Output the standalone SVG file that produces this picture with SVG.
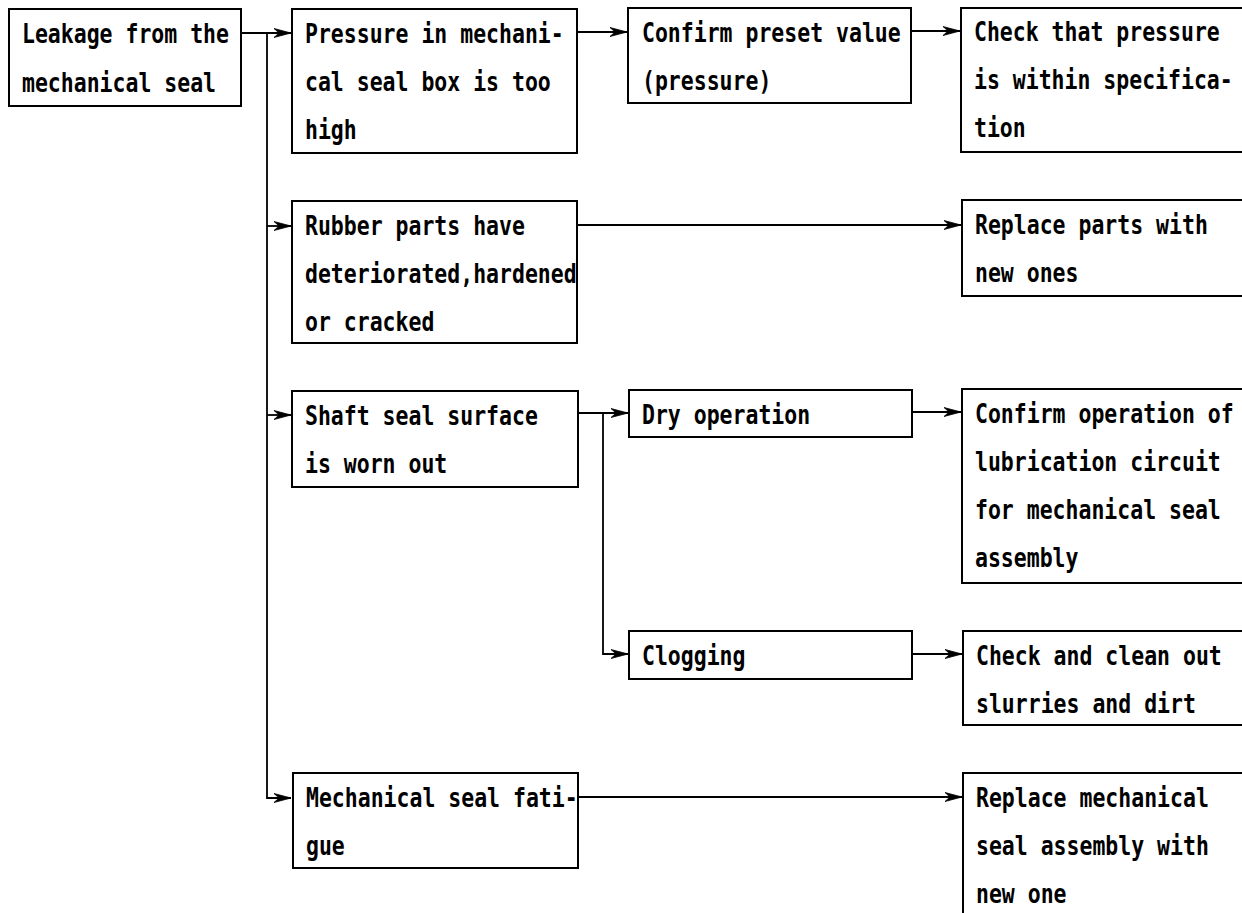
<svg xmlns="http://www.w3.org/2000/svg" width="1242" height="913" viewBox="0 0 1242 913">
<style>
.box{fill:#fff;stroke:#000;stroke-width:2}
.t{font-family:"DejaVu Sans Mono","Liberation Mono",monospace;font-size:21.5px;font-weight:bold;fill:#000}
.c{fill:none;stroke:#000;stroke-width:1.8}
</style>
<defs>
<marker id="ah" markerUnits="userSpaceOnUse" viewBox="-19 -6 20 12" refX="0" refY="0" markerWidth="20" markerHeight="12" orient="auto">
<path d="M0,0 L-17,-4.5 L-12,0 L-17,4.5 Z" fill="#000" stroke="#000" stroke-width="0.8" stroke-linejoin="miter"/>
</marker>
</defs>
<rect width="1242" height="913" fill="#fff"/>
<g id="connectors">
<path class="c" d="M241,33 H291" marker-end="url(#ah)"/>
<path class="c" d="M267,33 V798 H291" marker-end="url(#ah)"/>
<path class="c" d="M267,226 H291" marker-end="url(#ah)"/>
<path class="c" d="M267,415 H291" marker-end="url(#ah)"/>
<path class="c" d="M577,32 H627" marker-end="url(#ah)"/>
<path class="c" d="M911,31 H960" marker-end="url(#ah)"/>
<path class="c" d="M577,225 H961" marker-end="url(#ah)"/>
<path class="c" d="M578,413 H628" marker-end="url(#ah)"/>
<path class="c" d="M603,413 V654 H628" marker-end="url(#ah)"/>
<path class="c" d="M912,412 H961" marker-end="url(#ah)"/>
<path class="c" d="M912,654 H962" marker-end="url(#ah)"/>
<path class="c" d="M578,797 H962" marker-end="url(#ah)"/>
</g>
<g id="n-leakage">
<rect class="box" x="9" y="9" width="232" height="97"/>
<text class="t" transform="translate(22 43) scale(1 1.2)">Leakage from the</text>
<text class="t" transform="translate(22 92) scale(1 1.2)">mechanical seal</text>
</g>
<g id="n-pressure">
<rect class="box" x="292" y="9" width="285" height="144"/>
<text class="t" transform="translate(305 43) scale(1 1.2)">Pressure in mechani-</text>
<text class="t" transform="translate(305 91) scale(1 1.2)">cal seal box is too</text>
<text class="t" transform="translate(305 139) scale(1 1.2)">high</text>
</g>
<g id="n-rubber">
<rect class="box" x="292" y="201" width="285" height="142"/>
<text class="t" transform="translate(305 235) scale(1 1.2)">Rubber parts have</text>
<text class="t" transform="translate(305 283) scale(1 1.2)">deteriorated,hardened</text>
<text class="t" transform="translate(305 331) scale(1 1.2)">or cracked</text>
</g>
<g id="n-shaft">
<rect class="box" x="292" y="391" width="286" height="96"/>
<text class="t" transform="translate(305 425) scale(1 1.2)">Shaft seal surface</text>
<text class="t" transform="translate(305 473) scale(1 1.2)">is worn out</text>
</g>
<g id="n-fatigue">
<rect class="box" x="293" y="773" width="285" height="95"/>
<text class="t" transform="translate(306 807) scale(1 1.2)">Mechanical seal fati-</text>
<text class="t" transform="translate(306 855) scale(1 1.2)">gue</text>
</g>
<g id="n-preset">
<rect class="box" x="628" y="8" width="283" height="95"/>
<text class="t" transform="translate(642 42) scale(1 1.2)">Confirm preset value</text>
<text class="t" transform="translate(642 90) scale(1 1.2)">(pressure)</text>
</g>
<g id="n-dry">
<rect class="box" x="629" y="390" width="283" height="47"/>
<text class="t" transform="translate(642 424) scale(1 1.2)">Dry operation</text>
</g>
<g id="n-clogging">
<rect class="box" x="629" y="631" width="283" height="48"/>
<text class="t" transform="translate(642 665) scale(1 1.2)">Clogging</text>
</g>
<g id="n-check-pressure">
<path class="box" d="M1242,8 H961 V152 H1242"/>
<text class="t" transform="translate(974 41) scale(1 1.2)">Check that pressure</text>
<text class="t" transform="translate(974 89) scale(1 1.2)">is within specifica-</text>
<text class="t" transform="translate(974 137) scale(1 1.2)">tion</text>
</g>
<g id="n-replace-parts">
<path class="box" d="M1242,200 H962 V296 H1242"/>
<text class="t" transform="translate(975 234) scale(1 1.2)">Replace parts with</text>
<text class="t" transform="translate(975 282) scale(1 1.2)">new ones</text>
</g>
<g id="n-lubrication">
<path class="box" d="M1242,389 H962 V583 H1242"/>
<text class="t" transform="translate(975 423) scale(1 1.2)">Confirm operation of</text>
<text class="t" transform="translate(975 471) scale(1 1.2)">lubrication circuit</text>
<text class="t" transform="translate(975 519) scale(1 1.2)">for mechanical seal</text>
<text class="t" transform="translate(975 567) scale(1 1.2)">assembly</text>
</g>
<g id="n-clean">
<path class="box" d="M1242,631 H963 V725 H1242"/>
<text class="t" transform="translate(976 665) scale(1 1.2)">Check and clean out</text>
<text class="t" transform="translate(976 713) scale(1 1.2)">slurries and dirt</text>
</g>
<g id="n-replace-seal">
<path class="box" d="M1242,773 H963 V913"/>
<text class="t" transform="translate(976 807) scale(1 1.2)">Replace mechanical</text>
<text class="t" transform="translate(976 855) scale(1 1.2)">seal assembly with</text>
<text class="t" transform="translate(976 903) scale(1 1.2)">new one</text>
</g>
</svg>
